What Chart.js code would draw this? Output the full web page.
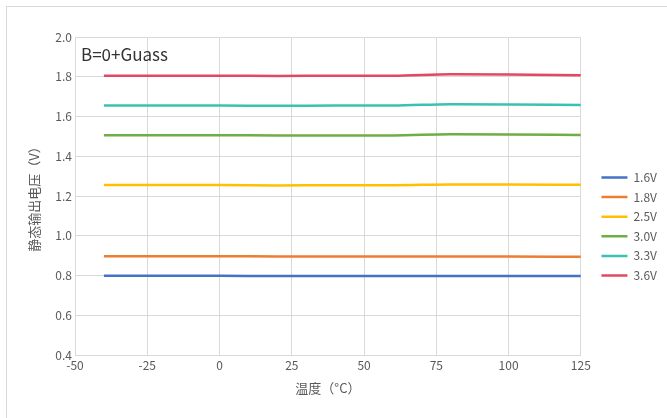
<!DOCTYPE html>
<html>
<head>
<meta charset="utf-8">
<title>静态输出电压</title>
<script src="https://cdn.jsdelivr.net/npm/chart.js"></script>
<style>
	body { margin: 0; background: #fff; overflow: hidden; }
	.frame {
		position: absolute; left: 6px; top: 6px;
		width: 700px; height: 440px;
		border: 1px solid #d9d9d9;
	}
	.wrap { position: absolute; left: 0; top: 0; width: 667px; height: 418px; }
</style>
</head>
<body>
<div class="frame"></div>
<div class="wrap"><canvas id="chart"></canvas></div>
<script>
	var temps = [-40, -20, 0, 20, 40, 60, 80, 100, 125];

	var v16 = [0.799, 0.799, 0.799, 0.797, 0.798, 0.798, 0.798, 0.797, 0.797];
	var v18 = [0.897, 0.897, 0.897, 0.896, 0.896, 0.896, 0.895, 0.895, 0.894];
	var v25 = [1.255, 1.255, 1.255, 1.253, 1.254, 1.254, 1.258, 1.258, 1.256];
	var v30 = [1.506, 1.506, 1.506, 1.505, 1.505, 1.505, 1.511, 1.510, 1.507];
	var v33 = [1.655, 1.655, 1.655, 1.654, 1.655, 1.655, 1.662, 1.661, 1.658];
	var v36 = [1.805, 1.805, 1.805, 1.804, 1.805, 1.805, 1.812, 1.811, 1.808];

	var names = ['1.6V', '1.8V', '2.5V', '3.0V', '3.3V', '3.6V'];
	var colors = ['#4472C4', '#ED7D31', '#FFC000', '#70AD47', '#3BC1B3', '#E34862'];
	var series = [v16, v18, v25, v30, v33, v36];

	var font = '"Noto Sans CJK SC", "Noto Sans", sans-serif';

	var datasets = series.map(function(vals, i) {
		return {
			label: names[i],
			data: vals.map(function(v, j) { return { x: temps[j], y: v }; }),
			borderColor: colors[i],
			backgroundColor: colors[i],
			borderWidth: 2.5,
			pointRadius: 0,
			tension: 0.4,
			cubicInterpolationMode: 'monotone'
		};
	});

	// label inside the plot + nudge the legend to where the original has it
	var extras = {
		id: 'extras',
		afterLayout: function(chart) {
			var lg = chart.legend;
			lg.left += 13; lg.right += 13;
			lg.top += 8; lg.bottom += 8;
		},
		afterDraw: function(chart) {
			var ctx = chart.ctx, a = chart.chartArea;
			ctx.save();
			ctx.font = '17px ' + font;
			ctx.fillStyle = '#333';
			ctx.textBaseline = 'middle';
			ctx.fillText('B=0+Guass', a.left + 6, a.top + 18);
			ctx.restore();
		}
	};

	new Chart(document.getElementById('chart'), {
		type: 'line',
		data: { datasets: datasets },
		plugins: [extras],
		options: {
			responsive: true,
			maintainAspectRatio: false,
			animation: false,
			layout: { padding: { left: 22, top: 37, right: 13, bottom: 18 } },
			plugins: {
				tooltip: { enabled: false },
				legend: {
					position: 'right',
					align: 'center',
					labels: {
						usePointStyle: true,
						pointStyle: 'line',
						pointStyleWidth: 26,
						boxWidth: 26,
						padding: 7.6,
						color: '#595959',
						font: { family: font, size: 12 }
					}
				}
			},
			scales: {
				x: {
					type: 'linear',
					min: -50, max: 125,
					ticks: { stepSize: 25, color: '#595959', font: { family: font, size: 12 } },
					grid: { color: '#d9d9d9', drawTicks: false },
					border: { color: '#d9d9d9' },
					title: { display: true, text: '温度（°C）', color: '#595959', font: { family: font, size: 13 } },
					afterFit: function(s) { s.height = 45; }
				},
				y: {
					min: 0.4, max: 2.0,
					ticks: {
						stepSize: 0.2, color: '#595959', font: { family: font, size: 12 },
						callback: function(v) { return v.toFixed(1); }
					},
					grid: { color: '#d9d9d9', drawTicks: false },
					border: { color: '#d9d9d9' },
					title: { display: true, text: '静态输出电压（V）', color: '#595959', font: { family: font, size: 13 } },
					afterFit: function(s) { s.width = 53; }
				}
			}
		}
	});
</script>
</body>
</html>
